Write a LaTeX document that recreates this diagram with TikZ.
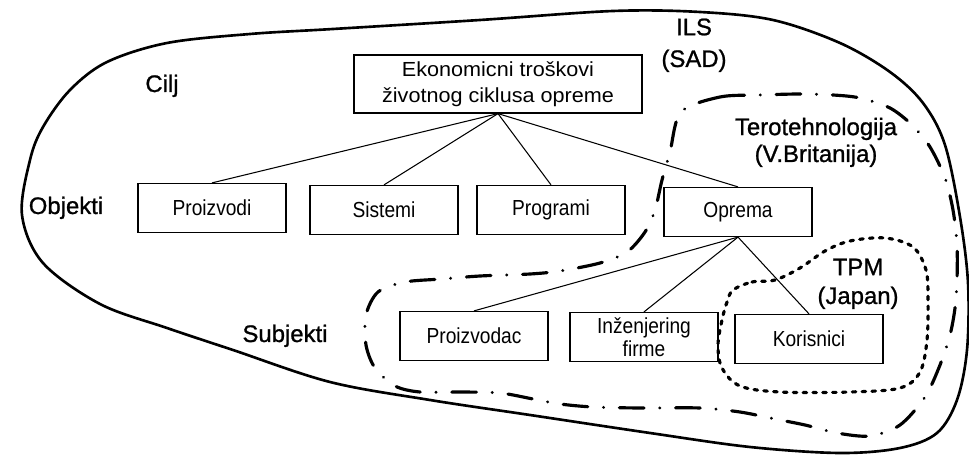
\documentclass[tikz,border=0pt]{standalone}
\usepackage{fontspec}
\setmainfont{Liberation Sans}
\newfontfamily\boxfont[FakeStretch=0.88]{Liberation Sans}
\newfontfamily\headfont[FakeStretch=1.06]{Liberation Sans}
\newfontfamily\labfont[FakeBold=1]{Liberation Sans}
\begin{document}
\begin{tikzpicture}[x=0.02cm,y=-0.02cm,
  box/.style={draw,line width=0.7pt,minimum width=2.96cm,minimum height=0.98cm,
    inner sep=0pt,align=center,font=\boxfont\fontsize{12.4}{13}\selectfont},
  headbox/.style={box,minimum width=5.76cm,minimum height=1.16cm,
    font=\headfont\fontsize{11.6}{14.6}\selectfont},
  lab/.style={anchor=base,inner sep=0pt,align=center,
    font=\labfont\fontsize{13.6}{15.3}\selectfont},
  link/.style={line width=0.6pt},
  outer/.style={line width=1.5pt},
  terobound/.style={line width=1.8pt,line cap=round,
    dash pattern=on 14pt off 9pt on 0.01pt off 9pt},
  tpmbound/.style={line width=1.8pt,line cap=round,
    dash pattern=on 2pt off 3.6pt}]
\useasboundingbox (0,0) rectangle (969,455);

% ILS region
\draw[outer] plot[smooth cycle,tension=0.55] coordinates {
  (22,215) (30,160) (43,127) (70,90) (107,62) (167,43) (250,34) (333,29)
  (480,20) (613,11) (700,12) (773,20) (840,43) (890,72) (923,103) (945,145)
  (960,217) (968,283) (967,350) (957,400) (937,433) (900,448) (840,453)
  (750,447) (650,433) (530,415) (430,400) (330,382) (233,350) (167,328)
  (100,304) (43,263)};

% Terotehnologija region
\draw[terobound] plot[smooth cycle,tension=0.5] coordinates {
  (681,112) (720,97) (760,95) (800,94) (833,95) (860,98) (890,108) (912,125)
  (930,147) (945,178) (953,210) (957,245) (957,280) (955,308) (950,335)
  (940,365) (925,397) (900,425) (870,436) (837,433) (805,425) (775,419)
  (740,412) (700,408) (640,408) (593,407) (560,404) (533,399) (500,393)
  (460,392) (420,392) (395,386) (375,368) (366,345) (366,315) (378,292)
  (405,282) (442,279) (480,276) (530,274) (560,271) (600,263) (627,252)
  (645,232) (655,210) (662,180) (670,152)};

% TPM region
\draw[tpmbound] plot[smooth cycle,tension=0.55] coordinates {
  (733,290) (752,282) (775,280) (800,268) (825,251) (850,241) (885,238)
  (913,247) (926,270) (928,300) (927,340) (920,372) (900,388) (850,392)
  (780,392) (740,386) (722,368) (718,345) (722,320) (727,302)};

% boxes
\node[headbox] (goal) at (498,84) {Ekonomicni troškovi\\životnog ciklusa opreme};
\node[box] (proizvodi) at (212,208) {Proizvodi};
\node[box] (sistemi) at (384,210) {Sistemi};
\node[box] (programi) at (551,210) {Programi};
\node[box] (oprema) at (738,212) {Oprema};
\node[box] (proizvodac) at (474,336) {Proizvodac};
\node[box] (inzenjering) at (644,337) {Inženjering\\firme};
\node[box] (korisnici) at (809,339) {Korisnici};

% tree connectors
\draw[link] (goal.south) -- (proizvodi.north);
\draw[link] (goal.south) -- (sistemi.north);
\draw[link] (goal.south) -- (programi.north);
\draw[link] (goal.south) -- (oprema.north);
\draw[link] (oprema.south) -- (proizvodac.north);
\draw[link] (oprema.south) -- (inzenjering.north);
\draw[link] (oprema.south) -- (korisnici.north);

% labels (base anchor sits on the last line)
\node[lab] (cilj) at (162,92) {Cilj};
\node[lab] (objekti) at (66,214) {Objekti};
\node[lab] (subjekti) at (285,342) {Subjekti};
\node[lab] (ils) at (694,67) {ILS\\[2.8pt](SAD)};
\node[lab] (tero) at (816,162) {Terotehnologija\\(V.Britanija)};
\node[lab] (tpm) at (858,304) {TPM\\[1.1pt](Japan)};
\end{tikzpicture}
\end{document}
